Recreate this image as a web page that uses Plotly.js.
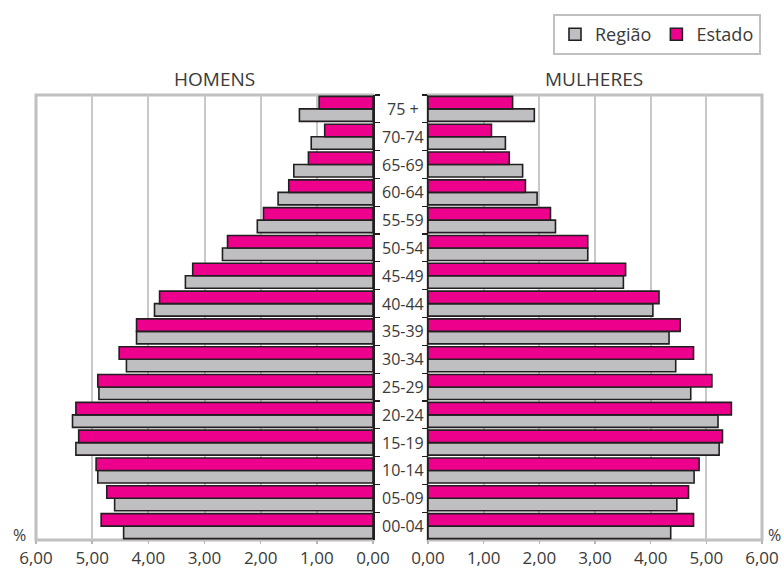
<!DOCTYPE html>
<html>
<head>
<meta charset="utf-8">
<script src="https://cdn.plot.ly/plotly-3.0.1.min.js"></script>
<style>html,body{margin:0;padding:0;background:#fff;}#chart{width:784px;height:568px;}</style>
</head>
<body>
<div id="chart"></div>
<script>
// Age groups, bottom to top
const ages = ['00-04','05-09','10-14','15-19','20-24','25-29','30-34','35-39','40-44','45-49','50-54','55-59','60-64','65-69','70-74','75 +'];
// Men (HOMENS)
const menEstado = [4.84, 4.74, 4.93, 5.24, 5.29, 4.90, 4.52, 4.21, 3.80, 3.21, 2.59, 1.95, 1.50, 1.15, 0.86, 0.96];
const menRegiao = [4.44, 4.60, 4.90, 5.29, 5.35, 4.88, 4.39, 4.21, 3.89, 3.34, 2.68, 2.06, 1.69, 1.41, 1.10, 1.31];
// Women (MULHERES)
const womenEstado = [4.77, 4.68, 4.87, 5.29, 5.45, 5.10, 4.77, 4.53, 4.15, 3.55, 2.87, 2.20, 1.75, 1.46, 1.14, 1.52];
const womenRegiao = [4.36, 4.47, 4.78, 5.23, 5.21, 4.72, 4.45, 4.33, 4.04, 3.51, 2.87, 2.29, 1.96, 1.70, 1.39, 1.91];
const xTicks = [0, 1, 2, 3, 4, 5, 6];
const seriesNames = ['Região', 'Estado'];
const panelTitles = ['HOMENS', 'MULHERES'];

const PINK = '#ec008c';
const GRAY = '#bfbfc1';
const OUT = '#231f20';
const FONT = '"Open Sans", "Noto Sans", sans-serif';
const TXT = '#3a3a3a';
const W = 784, H = 568;
const px = v => v / W;
const py = v => (H - v) / H;

function bar(x, name, color, xa, ya, showleg) {
  return {
    type: 'bar', orientation: 'h', y: ages, x: x, name: name,
    xaxis: xa, yaxis: ya, showlegend: showleg, legendgroup: name,
    marker: {color: color, line: {color: OUT, width: 1.6}},
    hoverinfo: 'x+y+name'
  };
}

const data = [
  bar(menRegiao, seriesNames[0], GRAY, 'x', 'y', true),
  bar(menEstado, seriesNames[1], PINK, 'x', 'y', true),
  bar(womenRegiao, seriesNames[0], GRAY, 'x2', 'y2', false),
  bar(womenEstado, seriesNames[1], PINK, 'x2', 'y2', false)
];

const xCommon = {
  tickvals: xTicks, tickformat: '.2f',
  showgrid: true, gridcolor: '#c8c8c8', gridwidth: 2,
  zeroline: false, showline: false,
  ticks: 'outside', ticklen: 3, tickcolor: '#b5b5b5', tickwidth: 1.5,
  tickfont: {family: FONT, size: 17, color: TXT},
  fixedrange: true
};
const yCommon = {
  type: 'category', categoryorder: 'array', categoryarray: ages,
  showticklabels: false, showgrid: false, zeroline: false,
  showline: true, linecolor: OUT, linewidth: 1.5,
  ticks: 'outside', tickson: 'boundaries', ticklen: 5, tickcolor: OUT, tickwidth: 1.2,
  domain: [py(540), py(95)], fixedrange: true
};

const annotations = [];
ages.forEach(a => annotations.push({
  xref: 'paper', yref: 'y', x: px(403), y: a, text: a, showarrow: false,
  xanchor: 'center', yanchor: 'middle',
  font: {family: FONT, size: 16, color: TXT}
}));
annotations.push({xref: 'paper', yref: 'paper', x: px(214), y: py(79), text: panelTitles[0], showarrow: false,
  xanchor: 'center', yanchor: 'middle', font: {family: FONT, size: 19, color: TXT}});
annotations.push({xref: 'paper', yref: 'paper', x: px(594), y: py(79), text: panelTitles[1], showarrow: false,
  xanchor: 'center', yanchor: 'middle', font: {family: FONT, size: 19, color: TXT}});
annotations.push({xref: 'paper', yref: 'paper', x: px(19), y: py(535), text: '%', showarrow: false,
  xanchor: 'center', yanchor: 'middle', font: {family: FONT, size: 16, color: TXT}});
annotations.push({xref: 'paper', yref: 'paper', x: px(783), y: py(535), text: '%', showarrow: false,
  xanchor: 'right', yanchor: 'middle', font: {family: FONT, size: 16, color: TXT}});

const frame = (xr, yr) => ({type: 'rect', xref: xr + ' domain', yref: yr + ' domain',
  x0: 0, x1: 1, y0: 0, y1: 1, line: {color: '#c0c0c0', width: 3}, layer: 'below'});

const layout = {
  width: W, height: H,
  margin: {l: 0, r: 0, t: 0, b: 0},
  paper_bgcolor: '#fff', plot_bgcolor: '#fff',
  separators: ',.',
  barmode: 'group', bargap: 0.1, bargroupgap: 0,
  font: {family: FONT, color: TXT},
  xaxis: Object.assign({}, xCommon, {domain: [px(36), px(373)], range: [6, 0], anchor: 'y'}),
  xaxis2: Object.assign({}, xCommon, {domain: [px(428), px(762)], range: [0, 6], anchor: 'y2'}),
  yaxis: Object.assign({}, yCommon, {anchor: 'x', side: 'right'}),
  yaxis2: Object.assign({}, yCommon, {anchor: 'x2', side: 'left'}),
  shapes: [frame('x', 'y'), frame('x2', 'y2')],
  annotations: annotations,
  legend: {
    orientation: 'h', x: px(761), xanchor: 'right', y: py(14), yanchor: 'top',
    bordercolor: '#c0c0c0', borderwidth: 2, bgcolor: '#fff',
    font: {family: FONT, size: 18, color: TXT}, traceorder: 'normal'
  },
  hovermode: false
};

Plotly.newPlot('chart', data, layout, {staticPlot: true, displayModeBar: false});
</script>
</body>
</html>
